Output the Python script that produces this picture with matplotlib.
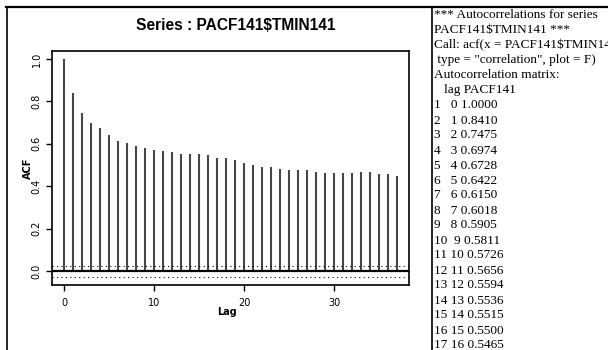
import matplotlib
matplotlib.use("Agg")
import matplotlib.pyplot as plt
from matplotlib.lines import Line2D

# Autocorrelation estimates for PACF141$TMIN141, lags 0..37
lags = list(range(38))
acf_values = [
    1.0000, 0.8410, 0.7475, 0.6974, 0.6728, 0.6422, 0.6150, 0.6018,
    0.5905, 0.5811, 0.5726, 0.5656, 0.5594, 0.5536, 0.5515, 0.5500,
    0.5465, 0.535, 0.531, 0.523, 0.510, 0.502, 0.493, 0.491,
    0.483, 0.476, 0.476, 0.476, 0.469, 0.464, 0.462, 0.462,
    0.462, 0.467, 0.467, 0.459, 0.457, 0.446,
]
conf_limit = 0.026
x_ticks = [0, 10, 20, 30]
y_ticks = [0.0, 0.2, 0.4, 0.6, 0.8, 1.0]
y_tick_labels = ["0.0", "0.2", "0.4", "0.6", "0.8", "1.0"]

# Printed output lines (the first 17 rows of the matrix)
header_lines = [
    "*** Autocorrelations for series",
    "PACF141$TMIN141 ***",
    "Call: acf(x = PACF141$TMIN141,",
    " type = \"correlation\", plot = F)",
    "Autocorrelation matrix:",
    "   lag PACF141",
]
table_rows = 17

W, H = 608, 350
fig = plt.figure(figsize=(W / 100, H / 100), dpi=100)
fig.patch.set_facecolor("white")


def fx(x):
    return x / W


def fy(y):
    return 1 - y / H


# Axes placed in pixel terms
left, right, top, bottom = 52, 409, 51, 285
ax = fig.add_axes([fx(left), fy(bottom), fx(right - left), (bottom - top) / H])

ax.vlines(lags, 0, acf_values, colors="#474747", linewidth=1.5)
ax.axhline(0, color="black", linewidth=1.6)
ax.axhline(conf_limit, color="black", linewidth=0.8, linestyle=(0, (1, 3)))
ax.axhline(-conf_limit, color="black", linewidth=0.8, linestyle=(0, (1, 3)))

ax.set_xlim(-1.37, 38.3)
ax.set_ylim(-0.066, 1.038)
ax.set_xticks(x_ticks)
ax.set_xticklabels([str(t) for t in x_ticks])
ax.set_yticks(y_ticks)
ax.set_yticklabels(y_tick_labels, rotation=90, va="center")
ax.tick_params(axis="both", direction="out", length=4, width=1.0,
               labelsize=7, colors="black")
ax.tick_params(axis="x", pad=5)
ax.tick_params(axis="y", pad=3.5)
for s in ax.spines.values():
    s.set_linewidth(1.2)
    s.set_color("black")

ax.set_xlabel("Lag", fontsize=7, fontweight="bold")
ax.xaxis.set_label_coords(0.49, -0.092)
ax.set_ylabel("ACF", fontsize=7, fontweight="bold")
ax.yaxis.set_label_coords(-0.053, 0.5)

fig.text(fx(236), fy(25), "Series : PACF141$TMIN141", ha="center",
         va="center", fontsize=11.2, fontweight="bold",
         family="Liberation Sans", parse_math=False)

# Panel frame lines
fig.add_artist(Line2D([fx(6), fx(608)], [fy(6.5), fy(6.5)],
                      color="black", linewidth=1.6))
fig.add_artist(Line2D([fx(6.5), fx(6.5)], [fy(6.5), fy(350)],
                      color="black", linewidth=1.2))
fig.add_artist(Line2D([fx(431.5), fx(431.5)], [fy(6.5), fy(350)],
                      color="black", linewidth=1.2))

# Printed autocorrelation listing
lines = list(header_lines)
for i in range(table_rows):
    lines.append(f"{i + 1:<2} {lags[i]:>2} {acf_values[i]:.4f}")
for k, line in enumerate(lines):
    fig.text(fx(434), fy(14 + 15 * k), line, ha="left",
             va="center_baseline", fontsize=9.5, family="Liberation Serif",
             parse_math=False)

fig.savefig("out.png", dpi=100, facecolor="white")
